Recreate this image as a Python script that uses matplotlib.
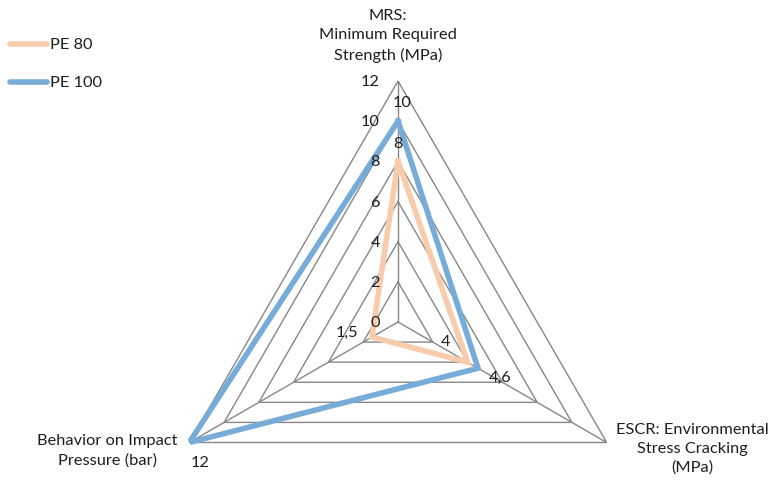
import numpy as np
import matplotlib
matplotlib.use("Agg")
import matplotlib.pyplot as plt

categories = ["MRS:\nMinimum Required\nStrength (MPa)",
              "ESCR: Environmental\nStress Cracking\n(MPa)",
              "Behavior on Impact\nPressure (bar)"]
series_names = ["PE 80", "PE 100"]
pe80 = [8, 4, 1.5]
pe100 = [10, 4.6, 12]
pe80_labels = ["8", "4", "1,5"]
pe100_labels = ["10", "4,6", "12"]
r_ticks = [0, 2, 4, 6, 8, 10, 12]

FONT = ["Lato", "DejaVu Sans"]
plt.rcParams["font.family"] = FONT
W, H, DPI = 771, 481, 100
fig = plt.figure(figsize=(W / DPI, H / DPI), dpi=DPI)

cx, cy, R = 398, 323, 241
ax = fig.add_axes([(cx - R) / W, (H - cy - R) / H, 2 * R / W, 2 * R / H], projection="polar")
ax.set_theta_zero_location("N")
ax.set_theta_direction(-1)
ax.set_ylim(0, 12)
ax.grid(False)
ax.set_xticks([])
ax.set_yticks([])
ax.spines["polar"].set_visible(False)
ax.patch.set_alpha(0)

n = len(categories)
angles = np.arange(n) * 2 * np.pi / n
closed = np.concatenate([angles, angles[:1]])

grid_c = "#878787"
for r in r_ticks[1:]:
    ax.plot(closed, [r] * (n + 1), color=grid_c, lw=1.0, zorder=1)
for a in angles:
    ax.plot([a, a], [0, r_ticks[-1]], color=grid_c, lw=1.0, zorder=1)

colors = ["#F8CBAD", "#78ACD8"]
for vals, col, name in zip([pe80, pe100], colors, series_names):
    ax.plot(closed, list(vals) + [vals[0]], color=col, lw=4.0, solid_joinstyle="miter",
            zorder=3 if name == "PE 80" else 2)

fs = 11.8
tc = "#1e1e1e"
for t in r_ticks:
    ax.annotate(str(t), xy=(0, t), xytext=(-13, 0), textcoords="offset points",
                ha="right", va="center", fontsize=fs, color=tc)

off80 = [(0, 13), (-16, 15), (-18, 4)]
off100 = [(3, 14), (16, -6), (8, -14)]
for vals, labs, offs in [(pe80, pe80_labels, off80), (pe100, pe100_labels, off100)]:
    for a, v, lab, o in zip(angles, vals, labs, offs):
        ax.annotate(lab, xy=(a, v), xytext=o, textcoords="offset points",
                    ha="center", va="center", fontsize=fs, color=tc, zorder=5)

# category labels
fig.text(388 / W, 1 - 36 / H, categories[0], ha="center", va="center", fontsize=fs,
         linespacing=1.45, color=tc)
fig.text(692 / W, 1 - 449 / H, categories[1], ha="center", va="center", fontsize=fs,
         linespacing=1.45, color=tc)
fig.text(107 / W, 1 - 451 / H, categories[2], ha="center", va="center", fontsize=fs,
         linespacing=1.45, color=tc)

# legend
lax = fig.add_axes([0, 0, 1, 1])
lax.set_xlim(0, W)
lax.set_ylim(H, 0)
lax.axis("off")
for i, (name, col) in enumerate(zip(series_names, colors)):
    y = 45 + 38 * i
    lax.plot([10, 47], [y, y], color=col, lw=4.0, solid_capstyle="round")
    lax.text(50, y, name, ha="left", va="center", fontsize=fs, color=tc)

fig.savefig("out.png", dpi=DPI)
